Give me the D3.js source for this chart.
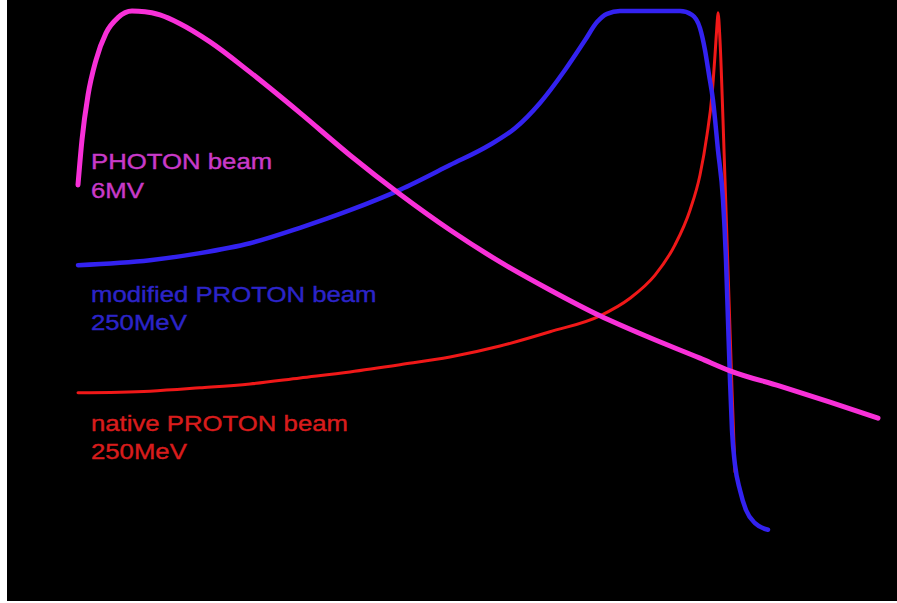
<!DOCTYPE html>
<html>
<head>
<meta charset="utf-8">
<title>Depth dose curves</title>
<script src="https://cdn.jsdelivr.net/npm/d3@7"></script>
<style>
  html, body { margin: 0; padding: 0; background: #fff; }
  svg { display: block; }
</style>
</head>
<body>
<script>
// Relative dose (%) against depth (mm) for three beams.
const photonDepth = [0, 1.6, 4, 7.2, 11.2, 16, 21.6, 26.8, 32.8, 40.8, 52.8, 68.8, 88.8, 108.8, 128.8, 148.8, 168.8, 188.8, 208.8, 228.8, 248.8, 260.8, 280.8, 300.8, 320];
const photonDose  = [68.2, 76.4, 84.5, 90.9, 95.8, 98.6, 99.8, 99.7, 99.1, 97.5, 94.2, 88.7, 81.3, 73.6, 66.5, 60, 54.2, 49.1, 44.4, 40.4, 36.7, 34.4, 31.6, 28.7, 25.8];

const modifiedDepth = [0, 28.8, 48.8, 68.8, 88.8, 108.8, 128.8, 148.8, 164.8, 174.8, 184.8, 194.8, 202.8, 207.6, 211.6, 216.8, 228.8, 240.8, 245.6, 248.8, 250.8, 252.4, 254, 256, 258, 259.2, 260, 260.8, 261.6, 262.8, 264.8, 267.2, 270.8, 276];
const modifiedDose  = [53.6, 54.5, 55.8, 57.6, 60.4, 63.6, 67.3, 71.8, 75.5, 78.5, 83.1, 89.1, 94.5, 97.8, 99.3, 99.8, 99.8, 99.8, 99.1, 96.7, 92.7, 88.2, 83.6, 74.5, 65.5, 54.5, 43.6, 32.7, 23.6, 17.3, 12.7, 9.1, 6.7, 5.5];

const nativeDepth = [0, 28.8, 48.8, 68.8, 88.8, 108.8, 128.8, 148.8, 168.8, 188.8, 208.8, 220.8, 230.8, 238.8, 244.8, 248.8, 251.6, 253.6, 254.8, 255.6, 256, 256.8, 258, 259.2, 260.4, 261.6, 262.8];
const nativeDose  = [30.4, 30.7, 31.3, 32, 33.1, 34.2, 35.5, 36.9, 38.9, 41.5, 44.4, 47.6, 51.8, 57.3, 63.6, 70, 77.3, 84.5, 91.8, 97.3, 99.5, 94.5, 80, 63.6, 47.3, 30.9, 16];

const seriesNames  = ["native PROTON beam", "modified PROTON beam", "PHOTON beam"];
const seriesEnergy = ["250MeV", "250MeV", "6MV"];

const W = 897, H = 603;

const svg = d3.select("body").append("svg")
  .attr("width", W).attr("height", H);

svg.append("rect").attr("width", W).attr("height", H).attr("fill", "#fff");
svg.append("rect").attr("x", 7).attr("y", 0).attr("width", W - 7).attr("height", 601).attr("fill", "#000");

const x = d3.scaleLinear().domain([0, 320]).range([78, 878]);
const y = d3.scaleLinear().domain([0, 100]).range([560, 10]);

const line = d3.line()
  .x(d => x(d[0]))
  .y(d => y(d[1]))
  .curve(d3.curveMonotoneX);

const series = [
  { depth: nativeDepth,   dose: nativeDose,   stroke: "#f01818", width: 3 },
  { depth: modifiedDepth, dose: modifiedDose, stroke: "#3322f0", width: 4.5 },
  { depth: photonDepth,   dose: photonDose,   stroke: "#f830d8", width: 5 }
];

svg.append("g").selectAll("path")
  .data(series)
  .join("path")
  .attr("d", s => line(s.depth.map((d, i) => [d, s.dose[i]])))
  .attr("fill", "none")
  .attr("stroke", s => s.stroke)
  .attr("stroke-width", s => s.width)
  .attr("stroke-linecap", "round")
  .attr("stroke-linejoin", "round");

// Beam labels, two lines each
const labels = [
  { name: seriesNames[2], energy: seriesEnergy[2], y1: 169, y2: 198, fill: "#c83ac8" },
  { name: seriesNames[1], energy: seriesEnergy[1], y1: 302, y2: 330, fill: "#2c24c8" },
  { name: seriesNames[0], energy: seriesEnergy[0], y1: 431, y2: 459, fill: "#d81c1c" }
];

const lg = svg.append("g")
  .attr("font-family", "'Liberation Sans', Arial, sans-serif")
  .attr("font-size", 22);

labels.forEach(l => {
  [[l.name, l.y1], [l.energy, l.y2]].forEach(([t, yy]) => {
    lg.append("text")
      .attr("transform", `translate(91,${yy}) scale(1.17,1)`)
      .attr("fill", l.fill)
      .attr("stroke", l.fill)
      .attr("stroke-width", 0.4)
      .text(t);
  });
});
</script>
</body>
</html>
